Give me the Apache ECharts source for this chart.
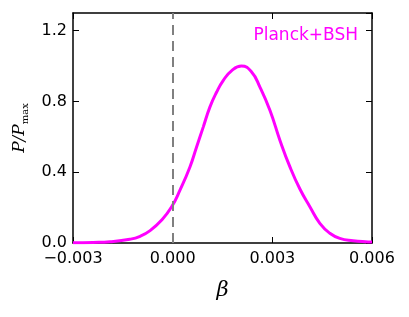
<!DOCTYPE html>
<html>
<head>
<meta charset="utf-8">
<script src="https://cdn.jsdelivr.net/npm/echarts@6/dist/echarts.min.js"></script>
<style>html,body{margin:0;padding:0;background:#fff}#c{width:409px;height:317px}</style>
</head>
<body>
<div id="c"></div>
<script>
var betaValues = [-0.003, -0.0024, -0.00189, -0.00129, -0.00098, -0.00068, -0.00033, -0.00003, 0.00022, 0.00052, 0.00072, 0.00092, 0.00112, 0.00132, 0.00152, 0.00177, 0.00207, 0.00237, 0.00263, 0.00293, 0.00323, 0.00353, 0.00383, 0.00413, 0.00443, 0.00473, 0.00503, 0.00543, 0.00588, 0.006];
var probValues = [0.001, 0.003, 0.007, 0.021, 0.038, 0.07, 0.13, 0.205, 0.299, 0.43, 0.543, 0.655, 0.768, 0.852, 0.918, 0.973, 1.0, 0.968, 0.88, 0.749, 0.58, 0.43, 0.305, 0.205, 0.111, 0.055, 0.026, 0.013, 0.006, 0.005];
var xTicks = [-0.003, 0.000, 0.003, 0.006];
var yTicks = [0.0, 0.4, 0.8, 1.2];
var seriesLabel = 'Planck+BSH';
var refLineX = [0.0];

var chart = echarts.init(document.getElementById('c'), null, {renderer: 'canvas'});
var fmtX = function (v) { var s = (Math.abs(v) < 1e-12 ? 0 : v).toFixed(3); return s.replace('-', '\u2212'); };
var fmtY = function (v) { return v.toFixed(1); };
var font = 'DejaVu Sans';
var data = betaValues.map(function (b, i) { return [b, probValues[i]]; });
var axisLine = {show: true, onZero: false, lineStyle: {color: '#000', width: 1.5}};
var tick = {show: true, inside: true, length: 6, lineStyle: {color: '#000', width: 1}};

chart.setOption({
  animation: false,
  grid: {left: 73, right: 37, top: 13, bottom: 74},
  xAxis: [{
    type: 'value', min: xTicks[0], max: xTicks[xTicks.length - 1], interval: 0.003,
    axisLine: axisLine, axisTick: tick, splitLine: {show: false},
    axisLabel: {formatter: fmtX, color: '#000', fontFamily: font, fontSize: 16, margin: 8},
    name: '\u03b2', nameLocation: 'middle', nameGap: 37,
    nameTextStyle: {fontFamily: 'DejaVu Serif', fontStyle: 'italic', fontSize: 21, color: '#000'}
  }, {
    type: 'value', position: 'top', min: xTicks[0], max: xTicks[xTicks.length - 1], interval: 0.003,
    axisLine: axisLine, axisTick: tick, axisLabel: {show: false}, splitLine: {show: false}
  }],
  yAxis: [{
    type: 'value', min: 0, max: 1.3, interval: 0.4,
    axisLine: axisLine, axisTick: tick, splitLine: {show: false},
    axisLabel: {formatter: fmtY, color: '#000', fontFamily: font, fontSize: 16, margin: 6, showMaxLabel: false},
    name: '{i|P/P}{s|max}', nameLocation: 'middle', nameGap: 40, nameRotate: 90,
    nameTextStyle: {
      rich: {
        i: {fontFamily: 'DejaVu Serif', fontStyle: 'italic', fontSize: 17, color: '#000', lineHeight: 22},
        s: {fontFamily: 'DejaVu Serif', fontSize: 10, color: '#000', lineHeight: 11, verticalAlign: 'bottom'}
      }
    }
  }, {
    type: 'value', position: 'right', min: 0, max: 1.3, interval: 0.4,
    axisLine: axisLine, axisTick: tick, axisLabel: {show: false}, splitLine: {show: false}
  }],
  series: [{
    type: 'line', name: seriesLabel, data: data, smooth: 0.5, showSymbol: false,
    lineStyle: {color: '#ff00ff', width: 3}, z: 3,
    markLine: {
      silent: true, symbol: 'none', label: {show: false},
      lineStyle: {color: '#808080', width: 2, type: [10, 6]},
      data: refLineX.map(function (x) { return [{coord: [x, 0]}, {coord: [x, 1.3]}]; })
    }
  }],
  graphic: [{
    type: 'text', right: 51, top: 27,
    style: {text: seriesLabel, fill: '#ff00ff', font: '17px "DejaVu Sans"'}
  }]
});
</script>
</body>
</html>
